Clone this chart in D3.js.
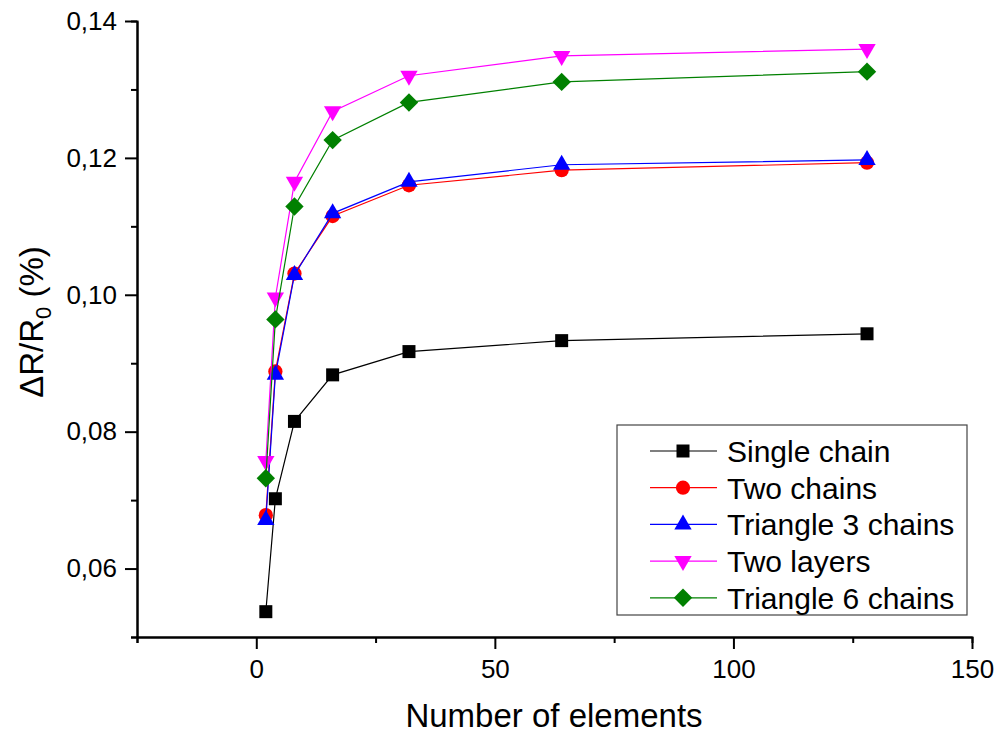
<!DOCTYPE html>
<html>
<head>
<meta charset="utf-8">
<script src="https://cdn.jsdelivr.net/npm/d3@7"></script>
<style>
  body { margin: 0; background: #fff; }
  svg { font-family: 'Liberation Sans', Arial, sans-serif; }
  .axis path, .axis line { stroke: #000; stroke-width: 2px; }
  .axis text { font-size: 26px; fill: #000; }
</style>
</head>
<body>
<svg id="chart" width="997" height="735"></svg>
<script>
// data
const elements = [2, 4, 8, 16, 32, 64, 128];
const seriesNames = ['Single chain', 'Two chains', 'Triangle 3 chains', 'Two layers', 'Triangle 6 chains'];
const singleChain = [0.0537, 0.0702, 0.0815, 0.0883, 0.0917, 0.0933, 0.0943];
const twoChains = [0.0678, 0.0888, 0.1031, 0.1115, 0.1160, 0.1182, 0.1193];
const triangle3 = [0.0671, 0.0883, 0.1029, 0.1119, 0.1165, 0.1190, 0.1197];
const twoLayers = [0.0757, 0.0996, 0.1165, 0.1268, 0.1320, 0.1349, 0.1359];
const triangle6 = [0.0732, 0.0964, 0.1129, 0.1226, 0.1281, 0.1311, 0.1326];
const xTicks = [0, 50, 100, 150];
const xMinor = [-25, 25, 75, 125];
const yTicks = [0.06, 0.08, 0.10, 0.12, 0.14];
const yMinor = [0.05, 0.07, 0.09, 0.11, 0.13];

const colors = ['#000000', '#ff0000', '#0000ff', '#ff00ff', '#008000'];
const values = [singleChain, twoChains, triangle3, twoLayers, triangle6];

const plot = { left: 137, right: 972, top: 21, bottom: 637 };

var svg = d3.select('#chart');

var xScale = d3.scaleLinear().domain([-25, 150]).range([plot.left, plot.right]);
var yScale = d3.scaleLinear().domain([0.05, 0.14]).range([plot.bottom, plot.top]);

const comma = v => d3.format('.2f')(v).replace('.', ',');

// minor ticks first, then major axes on top
svg.append('g')
  .attr('class', 'axis')
  .attr('transform', `translate(0,${plot.bottom})`)
  .call(d3.axisBottom(xScale).tickValues(xMinor).tickSize(6).tickFormat(''));

svg.append('g')
  .attr('class', 'axis')
  .attr('transform', `translate(${plot.left},0)`)
  .call(d3.axisLeft(yScale).tickValues(yMinor).tickSize(6).tickFormat(''));

svg.append('g')
  .attr('class', 'axis')
  .attr('transform', `translate(0,${plot.bottom})`)
  .call(d3.axisBottom(xScale).tickValues(xTicks).tickSize(12).tickSizeOuter(0).tickPadding(11));

svg.append('g')
  .attr('class', 'axis')
  .attr('transform', `translate(${plot.left},0)`)
  .call(d3.axisLeft(yScale).tickValues(yTicks).tickSize(12).tickSizeOuter(0).tickPadding(8).tickFormat(comma));

// axis titles
svg.append('text')
  .attr('x', 554)
  .attr('y', 727)
  .attr('text-anchor', 'middle')
  .style('font-size', '33px')
  .text('Number of elements');

var yTitle = svg.append('text')
  .attr('transform', 'translate(43,322) rotate(-90)')
  .attr('text-anchor', 'middle')
  .style('font-size', '33px');
yTitle.append('tspan').text('ΔR/R');
yTitle.append('tspan').attr('dy', 8).style('font-size', '22px').text('0');
yTitle.append('tspan').attr('dy', -8).text(' (%)');

// markers
function marker(sel, i) {
  if (i === 0) {
    sel.append('path').attr('d', d3.symbol(d3.symbolSquare, 169)());
  } else if (i === 1) {
    sel.append('path').attr('d', d3.symbol(d3.symbolCircle, 160)());
  } else if (i === 2) {
    sel.append('path').attr('d', d3.symbol(d3.symbolTriangle, 130)());
  } else if (i === 3) {
    sel.append('path').attr('d', d3.symbol(d3.symbolTriangle, 130)()).attr('transform', 'rotate(180)');
  } else {
    sel.append('path').attr('d', d3.symbol(d3.symbolSquare, 169)()).attr('transform', 'rotate(45)');
  }
}

var line = d3.line()
  .x(d => xScale(d[0]))
  .y(d => yScale(d[1]));

values.forEach((vals, i) => {
  let pts = elements.map((e, j) => [e, vals[j]]);
  let g = svg.append('g').attr('class', 'series');
  g.append('path')
    .datum(pts)
    .attr('d', line)
    .attr('fill', 'none')
    .attr('stroke', colors[i])
    .attr('stroke-width', 1.2);
  g.selectAll('g.pt')
    .data(pts)
    .enter()
    .append('g')
    .attr('class', 'pt')
    .attr('transform', d => `translate(${xScale(d[0])},${yScale(d[1])})`)
    .attr('fill', colors[i])
    .each(function() { marker(d3.select(this), i); });
});

// legend
var legend = svg.append('g');
legend.append('rect')
  .attr('x', 617).attr('y', 425)
  .attr('width', 350).attr('height', 190)
  .attr('fill', '#fff')
  .attr('stroke', '#444')
  .attr('stroke-width', 1.2);

seriesNames.forEach((name, i) => {
  let y = 451 + i * 36.7;
  legend.append('line')
    .attr('x1', 650).attr('x2', 717)
    .attr('y1', y).attr('y2', y)
    .attr('stroke', colors[i]).attr('stroke-width', 1.2);
  let m = legend.append('g')
    .attr('transform', `translate(683,${y})`)
    .attr('fill', colors[i]);
  marker(m, i);
  legend.append('text')
    .attr('x', 727).attr('y', y)
    .attr('dy', '0.36em')
    .style('font-size', '30px')
    .text(name);
});
</script>
</body>
</html>
